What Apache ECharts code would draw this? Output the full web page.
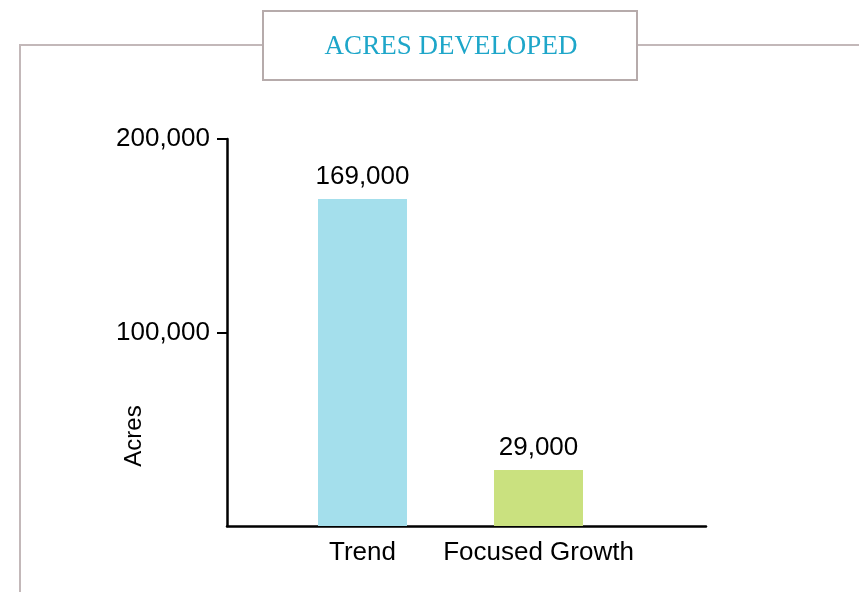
<!DOCTYPE html>
<html>
<head>
<meta charset="utf-8">
<script src="https://cdn.jsdelivr.net/npm/echarts@6/dist/echarts.min.js"></script>
<style>html,body{margin:0;padding:0;background:#fff;}#c{width:859px;height:592px;}</style>
</head>
<body>
<div id="c"></div>
<script>
const titleText = 'ACRES DEVELOPED';
const axisName = 'Acres';
const categories = ['Trend', 'Focused Growth'];
const acres = [169000, 29000];
const barColors = ['#a4dfec', '#cae17f'];
const yTicks = [100000, 200000];

const chart = echarts.init(document.getElementById('c'));
const font = 'Liberation Sans, Arial, Helvetica, sans-serif';
chart.setOption({
  animation: false,
  title: {
    text: titleText,
    left: 451,
    top: 33,
    textAlign: 'center',
    padding: 0,
    textStyle: { fontFamily: 'Liberation Serif, Times New Roman, serif', fontSize: 27, fontWeight: 'normal', color: '#1ea6c9' }
  },
  graphic: [
    { type: 'polyline', silent: true, shape: { points: [[20, 592], [20, 45], [262, 45]] }, style: { stroke: '#c3b8b9', lineWidth: 2, fill: null } },
    { type: 'line', silent: true, shape: { x1: 638, y1: 45, x2: 859, y2: 45 }, style: { stroke: '#c3b8b9', lineWidth: 2 } },
    { type: 'rect', silent: true, shape: { x: 263, y: 11, width: 374, height: 69 }, style: { stroke: '#b6abab', lineWidth: 2, fill: '#fff' } },
    { type: 'text', silent: true, x: 134, y: 436, rotation: Math.PI / 2,
      style: { text: axisName, fontFamily: font, fontSize: 24, fill: '#000', align: 'center', verticalAlign: 'middle' } }
  ],
  grid: [
    { left: 227, right: 153, top: 139, bottom: 66 },
    { left: 274.5, right: 232.5, top: 139, bottom: 66 }
  ],
  xAxis: [
    { type: 'value', gridIndex: 0, min: 0, max: 1,
      axisLine: { show: true, onZero: false, lineStyle: { color: '#000', width: 2.5 } },
      axisTick: { show: false }, axisLabel: { show: false }, splitLine: { show: false } },
    { type: 'category', gridIndex: 1, data: categories,
      axisLine: { show: false }, axisTick: { show: false }, splitLine: { show: false },
      axisLabel: { interval: 0, fontFamily: font, fontSize: 26, color: '#000', margin: 14 } }
  ],
  yAxis: [
    { type: 'value', gridIndex: 0, min: 0, max: 200000, interval: 100000,
      axisLine: { show: true, lineStyle: { color: '#000', width: 2.5 } },
      axisTick: { show: true, length: 10, customValues: yTicks, lineStyle: { color: '#000', width: 2 } },
      axisLabel: { fontFamily: font, fontSize: 26, color: '#000', margin: 17, customValues: yTicks,
        formatter: v => v.toLocaleString('en-US') },
      splitLine: { show: false } },
    { type: 'value', gridIndex: 1, min: 0, max: 200000, show: false }
  ],
  series: [{
    type: 'bar', xAxisIndex: 1, yAxisIndex: 1, barWidth: 89,
    data: acres.map((v, i) => ({ value: v, itemStyle: { color: barColors[i] } })),
    label: { show: true, position: 'top', distance: 9, fontFamily: font, fontSize: 26, color: '#000',
      formatter: p => p.value.toLocaleString('en-US') }
  }]
});
</script>
</body>
</html>
